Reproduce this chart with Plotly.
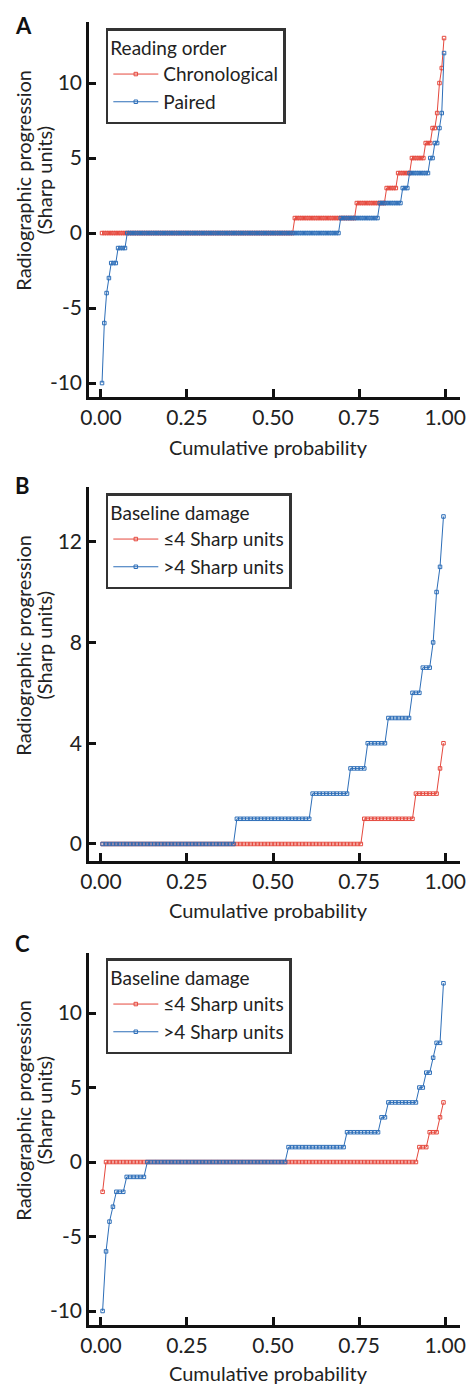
import plotly.graph_objects as go

RED = "#e5483d"
BLUE = "#2d6eb8"
FONT = "Lato"
W, H = 466, 1385
ML, MR = 89, 2

# ---------------- data (sorted levels and number of observations per level) -------------
# Panel A: reading order
a_chrono_levels = [0, 1, 2, 3, 4, 5, 6, 7, 8, 10, 11, 13]
a_chrono_counts = [84, 27, 13, 5, 6, 6, 3, 2, 1, 1, 1, 1]
a_paired_levels = [-10, -6, -4, -3, -2, -1, 0, 1, 2, 3, 4, 5, 6, 7, 8, 12]
a_paired_counts = [1, 1, 1, 1, 3, 4, 93, 17, 10, 3, 9, 2, 2, 1, 1, 1]

# Panel B: baseline damage
b_low_levels = [0, 1, 2, 3, 4]
b_low_counts = [76, 15, 7, 1, 1]
b_high_levels = [0, 1, 2, 3, 4, 5, 6, 7, 8, 10, 11, 13]
b_high_counts = [39, 22, 11, 5, 6, 7, 3, 3, 1, 1, 1, 1]

# Panel C: baseline damage
c_low_levels = [-2, 0, 1, 2, 3, 4]
c_low_counts = [1, 91, 3, 3, 1, 1]
c_high_levels = [-10, -6, -4, -3, -2, -1, 0, 1, 2, 3, 4, 5, 6, 7, 8, 12]
c_high_counts = [1, 1, 1, 1, 3, 6, 41, 17, 10, 2, 9, 2, 2, 1, 2, 1]

x_ticks = [0, 0.25, 0.5, 0.75, 1.0]
x_ticklabels = ["0.00", "0.25", "0.50", "0.75", "1.00"]
a_yticks = [-10, -5, 0, 5, 10]
b_yticks = [0, 4, 8, 12]
c_yticks = [-10, -5, 0, 5, 10]

a_legend = ["Reading order", "Chronological", "Paired"]
bc_legend = ["Baseline damage", "\u22644 Sharp units", ">4 Sharp units"]


def ecdf(levels, counts):
    vals = []
    for v, c in zip(levels, counts):
        vals.extend([v] * c)
    n = len(vals)
    probs = [(i + 0.5) / n for i in range(n)]
    return probs, vals


def py(pix):
    return 1 - pix / H


def px(pix):
    return (pix - ML) / (W - ML - MR)


panels = [
    ([(a_chrono_levels, a_chrono_counts, RED), (a_paired_levels, a_paired_counts, BLUE)],
     a_legend, [-10.93, 14.07], a_yticks, 22, 397, "A", 25, 28, 447, 180),
    ([(b_low_levels, b_low_counts, RED), (b_high_levels, b_high_counts, BLUE)],
     bc_legend, [-0.675, 14.17], b_yticks, 487, 861, "B", 485, 493, 910, 645),
    ([(c_low_levels, c_low_counts, RED), (c_high_levels, c_high_counts, BLUE)],
     bc_legend, [-10.94, 14.03], c_yticks, 953, 1325, "C", 943, 958, 1373, 1110),
]

fig = go.Figure()
layout = dict(
    width=W, height=H,
    margin=dict(l=ML, r=MR, t=0, b=0),
    paper_bgcolor="white", plot_bgcolor="white",
    font=dict(family=FONT, size=20, color="#222"),
    showlegend=True,
)
annotations = []

for k, (series, leg, yr, yt, top, bot, letter, ly, legtop, xty, ytc) in enumerate(panels):
    idx = "" if k == 0 else str(k + 1)
    legname = "legend" if k == 0 else "legend" + str(k + 1)
    for j, (lv, ct, col) in enumerate(series):
        xs, ys = ecdf(lv, ct)
        fig.add_trace(go.Scatter(
            x=xs, y=ys, mode="lines+markers", name=leg[j + 1],
            line=dict(color=col, width=1),
            marker=dict(symbol="square-open", size=3.5, color=col, line=dict(width=1, color=col)),
            xaxis="x" + idx, yaxis="y" + idx, legend=legname,
        ))
    layout["xaxis" + idx] = dict(
        domain=[0, 1], anchor="y" + idx, range=[-0.0345, 1.043],
        tickvals=x_ticks, ticktext=x_ticklabels, ticklabeloverflow="allow",
        showline=True, linecolor="#111", linewidth=2.5,
        ticks="inside", ticklen=8, tickwidth=2.5, tickcolor="#111",
        showgrid=False, zeroline=False, tickfont=dict(size=21),
    )
    layout["yaxis" + idx] = dict(
        domain=[py(bot), py(top)], anchor="x" + idx, range=yr,
        tickvals=yt, ticktext=[str(v) for v in yt],
        showline=True, linecolor="#111", linewidth=2.5,
        ticks="inside", ticklen=7, tickwidth=2.5, tickcolor="#111",
        showgrid=False, zeroline=False, tickfont=dict(size=21),
    )
    layout[legname] = dict(
        x=px(106), y=py(legtop), xanchor="left", yanchor="top",
        bordercolor="#333", borderwidth=2.5, bgcolor="white",
        font=dict(size=19, family=FONT, color="#222"),
        title=dict(text=leg[0], font=dict(size=19, family=FONT, color="#222")),
        itemwidth=45, tracegroupgap=0,
    )
    annotations.append(dict(text="<b>" + letter + "</b>", x=px(12), y=py(ly), xref="paper", yref="paper",
                            showarrow=False, xanchor="left", yanchor="middle",
                            font=dict(size=22, family=FONT, color="#111")))
    annotations.append(dict(text="Cumulative probability", x=px(270), y=py(xty), xref="paper", yref="paper",
                            showarrow=False, xanchor="center", yanchor="middle",
                            font=dict(size=20, family=FONT, color="#222")))
    annotations.append(dict(text="Radiographic progression", x=px(22), y=py(ytc), xref="paper", yref="paper",
                            showarrow=False, xanchor="center", yanchor="middle", textangle=-90,
                            font=dict(size=20, family=FONT, color="#222")))
    annotations.append(dict(text="(Sharp units)", x=px(44), y=py(ytc), xref="paper", yref="paper",
                            showarrow=False, xanchor="center", yanchor="middle", textangle=-90,
                            font=dict(size=20, family=FONT, color="#222")))

layout["annotations"] = annotations
fig.update_layout(**layout)
fig.write_html("out.html", config={"displayModeBar": False},
               post_script="document.body.style.margin='0';document.body.style.padding='0';"
                           "document.documentElement.style.overflow='hidden';")
